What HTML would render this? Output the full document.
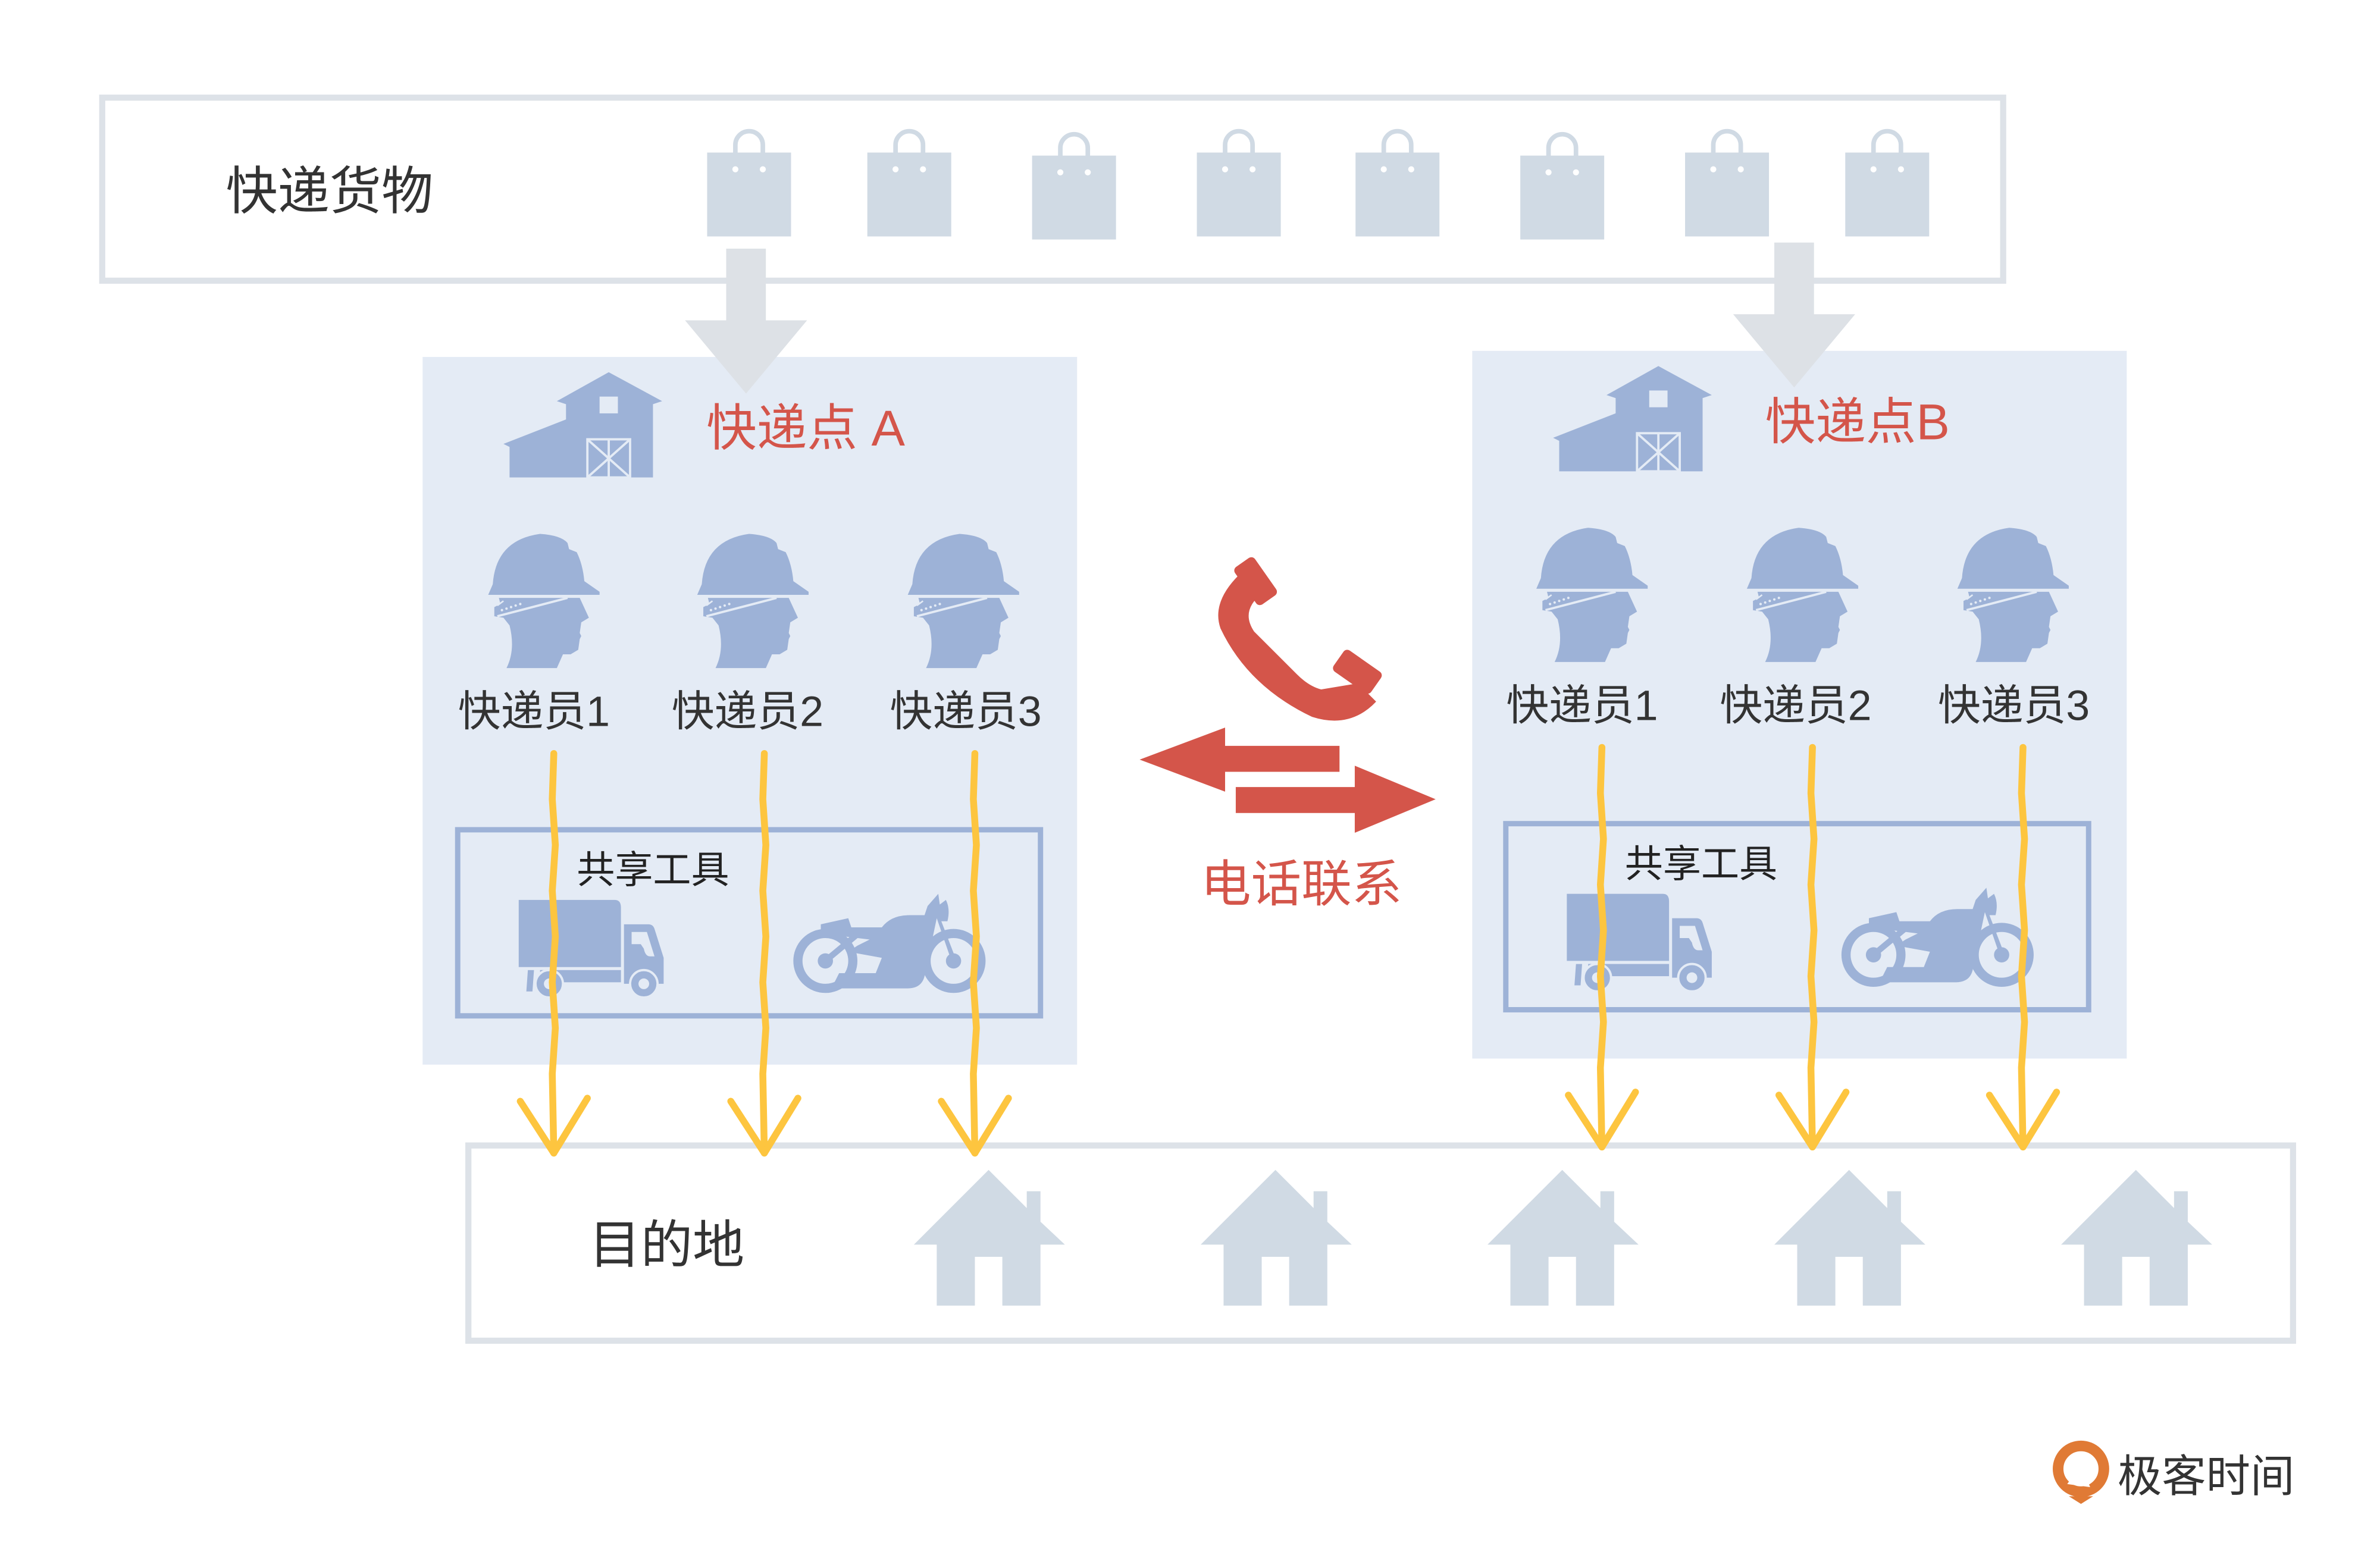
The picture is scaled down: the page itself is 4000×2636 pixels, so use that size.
<!DOCTYPE html>
<html><head><meta charset="utf-8"><style>
html,body{margin:0;padding:0;background:#fff;}
svg{display:block;}
text{font-family:"Liberation Sans","Noto Sans CJK SC",sans-serif;}
</style></head><body>
<svg width="4000" height="2636" viewBox="0 0 1560 1028" xmlns="http://www.w3.org/2000/svg">
<defs>
  <g id="bag">
    <rect x="-27.5" y="100" width="55" height="55" fill="#d0dae4"/>
    <path d="M-9,111 L-9,95 A9,9 0 0 1 9,95 L9,111" fill="none" stroke="#d0dae4" stroke-width="3"/>
    <circle cx="-9" cy="111" r="3" fill="#fff"/><circle cx="9" cy="111" r="3" fill="#fff"/>
    <circle cx="-9" cy="111" r="3" fill="none" stroke="#d0dae4" stroke-width="2"/>
    <circle cx="9" cy="111" r="3" fill="none" stroke="#d0dae4" stroke-width="2"/>
  </g>
  <g id="head">
    <path d="M0,40 L3,33 Q5,4 34,0 Q48,1 52,6 L53,10 L58,12 Q62,20 63,31 L73,38 L73,40 Z" fill="#9db2d7"/>
    <path d="M7,42 L60,42 L66,55 L61,58 L60,65 L61,67 L60,69 L59,76 L54,79 L49,79 L45,88 L12,88 Q18,76 14,60 L10,55 L4,54 L4,48 L8,46 Z" fill="#9db2d7"/>
    <path d="M6,54 L52,42" stroke="#e4ebf5" stroke-width="1.5"/>
    <path d="M6,47 L10,44" stroke="#e4ebf5" stroke-width="1"/>
    <g fill="#e4ebf5"><circle cx="9" cy="50" r="0.8"/><circle cx="12" cy="49" r="0.8"/><circle cx="15" cy="48" r="0.8"/><circle cx="18" cy="47" r="0.8"/><circle cx="21" cy="46" r="0.8"/></g>
  </g>
  <g id="barn">
    <path d="M69,0 L104,19 L98,21 L98,69 L4,69 L4,49 L0,47 L41,31 L41,21 L35,19 Z" fill="#9db2d7"/>
    <rect x="63" y="16" width="12" height="11" fill="#e4ebf5"/>
    <rect x="55" y="44" width="28" height="25" fill="none" stroke="#e4ebf5" stroke-width="1.5"/>
    <path d="M55,44 L83,69 M83,44 L55,69 M69,44 L69,69" stroke="#e4ebf5" stroke-width="1.5"/>
  </g>
  <g id="truck">
    <path d="M0,0 L63,0 Q67,0 67,5 L67,44 L0,44 Z" fill="#9db2d7"/>
    <path d="M69,16 L85,16 Q88,16 89,19 L95,38 L95,55 L69,55 Z" fill="#9db2d7"/>
    <path d="M74,21 L84,21 L89,37 L86,37 Q83,37 82,32 L80,29 L74,29 Z" fill="#e4ebf5"/>
    <rect x="14" y="46" width="53" height="8" fill="#9db2d7"/>
    <path d="M6,46 L10,46 L9,60 L5,60 Z" fill="#9db2d7"/>
    <circle cx="20" cy="55" r="9" fill="#9db2d7" stroke="#e4ebf5" stroke-width="1.5"/><circle cx="20" cy="55" r="3.5" fill="#e4ebf5"/>
    <circle cx="82" cy="55" r="9" fill="#9db2d7" stroke="#e4ebf5" stroke-width="1.5"/><circle cx="82" cy="55" r="3.5" fill="#e4ebf5"/>
  </g>
  <g id="moto">
    <circle cx="21" cy="40" r="18" fill="none" stroke="#9db2d7" stroke-width="6"/>
    <circle cx="21" cy="40" r="5" fill="#9db2d7"/>
    <circle cx="105" cy="40" r="18" fill="none" stroke="#9db2d7" stroke-width="6"/>
    <circle cx="105" cy="40" r="5" fill="#9db2d7"/>
    <path d="M18,22 L18,16 L36,12 L38,18 L58,18 Q64,10 76,10 L86,10 L88,4 L95,-4 L96,3 L100,0 Q103,6 101,14 L97,14 L107,40 L104,41 L94,12 L86,50 Q84,58 75,58 L25,58 L30,48 L54,48 L58,38 L36,34 L42,30 L50,26 Z" fill="#9db2d7"/>
    <path d="M21,40 L45,20" stroke="#9db2d7" stroke-width="4"/>
  </g>
  <g id="house">
    <path d="M0,0 L25,25 L25,14 L34,14 L34,34 L50,49 L34,49 L34,89 L9,89 L9,57 L-9,57 L-9,89 L-34,89 L-34,49 L-49,49 Z" fill="#d0dae4"/>
  </g>
  <g id="yarrow" fill="none" stroke="#fdc53f" stroke-width="4.5" stroke-linecap="round" stroke-linejoin="round">
    <path d="M0,0 L-1,30 L1,60 L-1,90 L1,120 L-1,150 L1,180 L-1,210 L0,262"/>
    <path d="M-22,228 L0,262 L22,226"/>
  </g>
</defs>

<!-- top box -->
<rect x="67" y="64" width="1246" height="120" fill="#fff" stroke="#dde2e8" stroke-width="4"/>
<text x="148" y="137" font-size="34" fill="#333">快递货物</text>
<use href="#bag" x="491" y="0"/><use href="#bag" x="596" y="0"/><use href="#bag" x="704" y="2"/><use href="#bag" x="812" y="0"/>
<use href="#bag" x="916" y="0"/><use href="#bag" x="1024" y="2"/><use href="#bag" x="1132" y="0"/><use href="#bag" x="1237" y="0"/>

<!-- panels -->
<rect x="277" y="234" width="429" height="464" fill="#e4ebf5"/>
<rect x="965" y="230" width="429" height="464" fill="#e4ebf5"/>

<!-- gray arrows -->
<path d="M476,163 L502,163 L502,210 L529,210 L489,258 L449,210 L476,210 Z" fill="#dde1e6"/>
<path d="M1163,159 L1189,159 L1189,206 L1216,206 L1176,254 L1136,206 L1163,206 Z" fill="#dde1e6"/>

<!-- Panel A -->
<use href="#barn" x="330" y="244"/>
<text x="463" y="292" font-size="33" fill="#d4554a">快递点 A</text>
<use href="#head" x="320" y="350"/><use href="#head" x="457" y="350"/><use href="#head" x="595" y="350"/>
<text x="350" y="476" font-size="28" fill="#333" text-anchor="middle">快递员1</text>
<text x="490" y="476" font-size="28" fill="#333" text-anchor="middle">快递员2</text>
<text x="633" y="476" font-size="28" fill="#333" text-anchor="middle">快递员3</text>
<rect x="300" y="544" width="382" height="122" fill="none" stroke="#9db2d7" stroke-width="3.5"/>
<text x="378" y="579" font-size="25" fill="#222">共享工具</text>
<use href="#truck" x="340" y="590"/>
<use href="#moto" x="520" y="590"/>

<!-- Panel B -->
<use href="#barn" x="1018" y="240"/>
<text x="1157" y="288" font-size="33" fill="#d4554a">快递点B</text>
<use href="#head" x="1007" y="346"/><use href="#head" x="1145" y="346"/><use href="#head" x="1283" y="346"/>
<text x="1037" y="472" font-size="28" fill="#333" text-anchor="middle">快递员1</text>
<text x="1177" y="472" font-size="28" fill="#333" text-anchor="middle">快递员2</text>
<text x="1320" y="472" font-size="28" fill="#333" text-anchor="middle">快递员3</text>
<rect x="987" y="540" width="382" height="122" fill="none" stroke="#9db2d7" stroke-width="3.5"/>
<text x="1065" y="575" font-size="25" fill="#222">共享工具</text>
<use href="#truck" x="1027" y="586"/>
<use href="#moto" x="1207" y="586"/>

<!-- phone -->
<g fill="#d4554a">
  <path d="M812,377 Q794,395 800,412 Q818,450 860,470 Q885,478 902,460 L890,448 L866,452 Q858,450 850,442 L822,414 Q814,402 824,392 Z"/>
  <rect x="815" y="366" width="16" height="30" rx="3" transform="rotate(-35 823 381)"/>
  <rect x="875" y="432" width="30" height="17" rx="3" transform="rotate(35 890 440)"/>
</g>
<!-- red arrows -->
<path d="M878,489 L803,489 L803,477 L747,498 L803,519 L803,506 L878,506 Z" fill="#d4554a"/>
<path d="M810,516 L888,516 L888,502 L941,524 L888,546 L888,533 L810,533 Z" fill="#d4554a"/>
<text x="787" y="591" font-size="33" fill="#d4554a">电话联系</text>

<!-- bottom box -->
<rect x="307" y="751" width="1196" height="128" fill="#fff" stroke="#dde2e8" stroke-width="4"/>
<text x="386" y="828" font-size="34" fill="#333">目的地</text>
<use href="#house" x="648" y="767"/><use href="#house" x="836" y="767"/><use href="#house" x="1024" y="767"/>
<use href="#house" x="1212" y="767"/><use href="#house" x="1400" y="767"/>

<!-- yellow arrows -->
<use href="#yarrow" x="363" y="494"/><use href="#yarrow" x="501" y="494"/><use href="#yarrow" x="639" y="494"/>
<use href="#yarrow" x="1050" y="490"/><use href="#yarrow" x="1188" y="490"/><use href="#yarrow" x="1326" y="490"/>

<!-- logo -->
<g>
  <circle cx="1364" cy="963" r="15" fill="none" stroke="#e07a35" stroke-width="7"/>
  <path d="M1355,973 L1364,960 L1370,975 Z" fill="#fff"/>
  <path d="M1356,981 L1364,986 L1372,981 Z" fill="#e07a35"/>
</g>
<text x="1388" y="978" font-size="29" fill="#333">极客时间</text>
</svg>
</body></html>
